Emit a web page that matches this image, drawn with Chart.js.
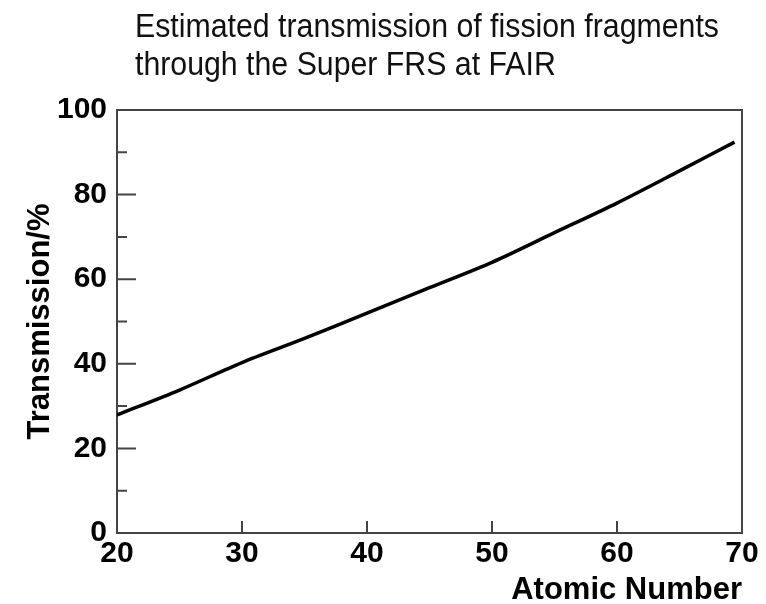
<!DOCTYPE html>
<html>
<head>
<meta charset="utf-8">
<script src="https://cdn.jsdelivr.net/npm/chart.js@4.4.1/dist/chart.umd.min.js"></script>
<style>
  html, body { margin: 0; padding: 0; background: #fff; }
  #wrap { width: 766px; height: 604px; }
</style>
</head>
<body>
<div id="wrap"><canvas id="transmission-chart"></canvas></div>
<script>
// Transmission curve
const titleLines = ['Estimated transmission of fission fragments', 'through the Super FRS at FAIR'];
const atomicNumbers = [20, 25, 30, 35, 40, 45, 50, 55, 60, 65, 69.4];
const transmission = [27.9, 33.8, 40.3, 46.0, 52.0, 58.0, 64.0, 71.0, 78.0, 85.6, 92.4];
const xTicks = [20, 30, 40, 50, 60, 70];
const yTicks = [0, 10, 20, 30, 40, 50, 60, 70, 80, 90, 100];
const yLabelled = [0, 20, 40, 60, 80, 100];

const frameColor = '#444';

// title drawn left aligned above the frame, squeezed like a narrow face
const titlePlugin = {
    id: 'leftTitle',
    afterDraw(chart) {
        const ctx = chart.ctx;
        ctx.save();
        ctx.fillStyle = '#111';
        ctx.font = '34px "Liberation Sans", Arial, sans-serif';
        ctx.textAlign = 'left';
        ctx.textBaseline = 'alphabetic';
        const sx = 584 / ctx.measureText(titleLines[0]).width;
        ctx.translate(135, 0);
        ctx.scale(sx, 1);
        ctx.fillText(titleLines[0], 0, 37);
        ctx.fillText(titleLines[1], 0, 75);
        ctx.restore();
    }
};

// top/right frame lines and inward tick marks
const framePlugin = {
    id: 'frameTicks',
    afterDraw(chart) {
        const ctx = chart.ctx;
        const area = chart.chartArea;
        const xs = chart.scales.x;
        const ys = chart.scales.y;
        ctx.save();
        ctx.strokeStyle = frameColor;
        ctx.lineWidth = 2;
        ctx.beginPath();
        ctx.moveTo(area.left, area.top);
        ctx.lineTo(area.right, area.top);
        ctx.lineTo(area.right, area.bottom);
        ctx.stroke();

        ctx.beginPath();
        ys.ticks.forEach(t => {
            const py = ys.getPixelForValue(t.value);
            const len = yLabelled.includes(t.value) ? 19 : 10;
            ctx.moveTo(area.left, py);
            ctx.lineTo(area.left + len, py);
        });
        xs.ticks.forEach(t => {
            const px = xs.getPixelForValue(t.value);
            ctx.moveTo(px, area.bottom);
            ctx.lineTo(px, area.bottom - 12);
        });
        ctx.stroke();
        ctx.restore();
    }
};

const tickFont = { family: '"Liberation Sans", Arial, sans-serif', size: 30, weight: 'bold', lineHeight: 1.0 };
const axisTitleFont = { family: '"Liberation Sans", Arial, sans-serif', size: 31, weight: 'bold' };

new Chart(document.getElementById('transmission-chart'), {
    type: 'line',
    data: {
        datasets: [{
            label: 'Transmission',
            data: atomicNumbers.map((z, i) => ({ x: z, y: transmission[i] })),
            borderColor: '#000',
            borderWidth: 3.5,
            pointRadius: 0,
            tension: 0.3,
            fill: false
        }]
    },
    options: {
        responsive: true,
        maintainAspectRatio: false,
        animation: false,
        layout: {
            padding: { top: 110, right: 24, bottom: 0, left: 20 }
        },
        plugins: {
            legend: { display: false },
            title: { display: false },
            tooltip: { enabled: false }
        },
        scales: {
            x: {
                type: 'linear',
                min: 20,
                max: 70,
                afterBuildTicks: scale => { scale.ticks = xTicks.map(v => ({ value: v })); },
                afterFit: scale => { scale.height = 71; },
                grid: { display: false, drawTicks: false },
                border: { display: true, color: frameColor, width: 2 },
                ticks: { color: '#000', font: tickFont, padding: 6, maxRotation: 0 },
                title: {
                    display: true,
                    text: 'Atomic Number',
                    align: 'end',
                    color: '#000',
                    font: { ...axisTitleFont, lineHeight: 0.9 },
                    padding: { top: 9, bottom: 0 }
                }
            },
            y: {
                min: 0,
                max: 100,
                afterBuildTicks: scale => { scale.ticks = yTicks.map(v => ({ value: v })); },
                afterFit: scale => { scale.width = 97; },
                grid: { display: false, drawTicks: false },
                border: { display: true, color: frameColor, width: 2 },
                ticks: {
                    color: '#000',
                    font: tickFont,
                    padding: 10,
                    callback: v => yLabelled.includes(v) ? String(v) : ''
                },
                title: {
                    display: true,
                    text: 'Transmission/%',
                    color: '#000',
                    font: { ...axisTitleFont, lineHeight: 1.0 },
                    padding: { top: 5, bottom: 5 }
                }
            }
        }
    },
    plugins: [titlePlugin, framePlugin]
});
</script>
</body>
</html>
